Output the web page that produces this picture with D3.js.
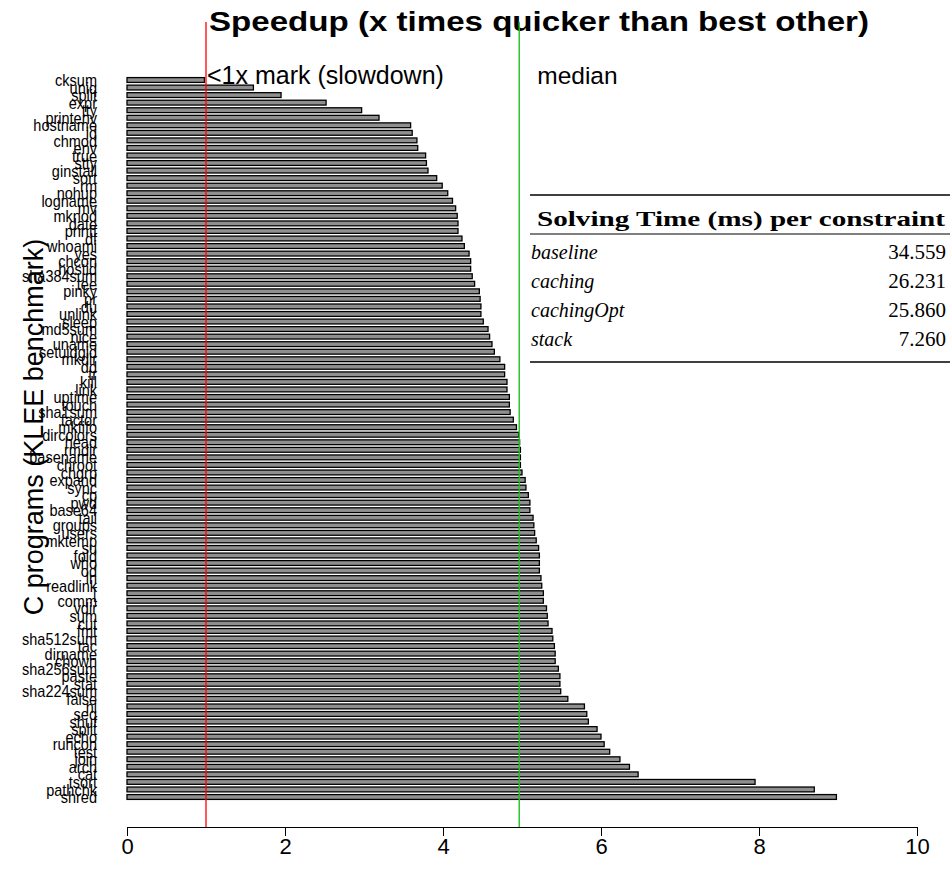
<!DOCTYPE html>
<html><head><meta charset="utf-8">
<script src="https://cdn.jsdelivr.net/npm/d3@7"></script>
<style>body{margin:0;background:#fff}svg{display:block}</style>
</head><body>
<script>
const programs = ["cksum","uniq","split","expr","tty","printenv","hostname","id","chmod","env","true","stty","ginstall","sort","rm","nohup","logname","mv","mknod","date","printf","df","whoami","yes","chcon","hostid","sha384sum","tee","pinky","pr","du","unlink","sleep","md5sum","nice","uname","setuidgid","mkdir","dd","tr","kill","link","uptime","touch","sha1sum","factor","mkfifo","dircolors","head","rmdir","basename","chroot","chgrp","expand","sync","cp","pwd","base64","tail","groups","users","mktemp","su","fold","who","od","ln","readlink","[","comm","vdir","sum","cut","fmt","sha512sum","tac","dirname","chown","sha256sum","paste","stat","sha224sum","false","nl","seq","shuf","split ","echo","runcon","test","join","arch","cat","tsort","pathchk","shred"];
const speedups = [0.98,1.60,1.95,2.52,2.97,3.19,3.59,3.61,3.67,3.68,3.78,3.79,3.81,3.92,3.99,4.06,4.12,4.16,4.18,4.19,4.19,4.24,4.27,4.33,4.35,4.35,4.37,4.40,4.46,4.47,4.48,4.48,4.51,4.57,4.59,4.62,4.65,4.72,4.78,4.78,4.81,4.81,4.84,4.84,4.85,4.89,4.93,4.96,4.97,4.98,4.98,4.98,5.00,5.04,5.05,5.08,5.10,5.10,5.14,5.15,5.16,5.18,5.21,5.22,5.22,5.22,5.24,5.25,5.27,5.27,5.31,5.32,5.33,5.38,5.39,5.41,5.42,5.42,5.46,5.48,5.48,5.49,5.58,5.79,5.82,5.84,5.95,6.00,6.04,6.11,6.24,6.36,6.47,7.95,8.70,8.98];
const xTicks = [0,2,4,6,8,10];
const solvers = ["baseline","caching","cachingOpt","stack"];
const solveTimes = ["34.559","26.231","25.860","7.260"];

const W = 950, H = 888;
const svg = d3.select("body").append("svg").attr("width", W).attr("height", H);
const sans = "'Liberation Sans', Arial, Helvetica, sans-serif";
const serif = "'Liberation Serif', 'Times New Roman', serif";

const x = d3.scaleLinear().domain([0, 10]).range([127, 917]);
const y = d3.scaleBand().domain(programs).range([76.23, 800.77]).paddingInner(0.36).paddingOuter(0.18);

// title
svg.append("text").attr("x", 539).attr("y", 31).attr("text-anchor", "middle")
  .attr("font-family", sans).attr("font-weight", "bold").attr("font-size", 28)
  .attr("textLength", 660).attr("lengthAdjust", "spacingAndGlyphs")
  .text("Speedup (x times quicker than best other)");

// y title
svg.append("text").attr("transform", "translate(43,427) rotate(-90)").attr("text-anchor", "middle")
  .attr("font-family", sans).attr("font-size", 27)
  .text("C programs (KLEE benchmark)");

// bars
svg.append("g").selectAll("rect").data(programs).join("rect")
  .attr("x", x(0)).attr("y", d => y(d))
  .attr("width", (d, i) => x(speedups[i]) - x(0)).attr("height", y.bandwidth())
  .attr("fill", "#8f8f8f").attr("stroke", "#000").attr("stroke-width", 1.3);

// bar labels (taller glyphs, natural width of 14.5px text)
const labels = svg.append("g").selectAll("text").data(programs).join("text")
  .attr("x", 97).attr("y", d => y(d) + y.bandwidth() / 2).attr("dy", "0.36em")
  .attr("text-anchor", "end").attr("font-family", sans).attr("font-size", 14.5).attr("fill", "#000")
  .text(d => d.trim());
labels.each(function() {
  const w = this.getComputedTextLength();
  d3.select(this).attr("font-size", 17).attr("textLength", w).attr("lengthAdjust", "spacingAndGlyphs");
});

// reference lines
const med = d3.median(speedups);
svg.append("line").attr("x1", x(1)).attr("x2", x(1)).attr("y1", 22).attr("y2", 828)
  .attr("stroke", "#ff0000").attr("stroke-width", 1.3);
svg.append("line").attr("x1", x(med)).attr("x2", x(med)).attr("y1", 22).attr("y2", 828)
  .attr("stroke", "#1fc21f").attr("stroke-width", 1.4);
svg.append("text").attr("x", x(1) + 1).attr("y", 84).attr("font-family", sans).attr("font-size", 25)
  .text("<1x mark (slowdown)");
svg.append("text").attr("x", x(med) + 18).attr("y", 84).attr("font-family", sans).attr("font-size", 24.5)
  .text("median");

// x axis
const xAxis = d3.axisBottom(x).tickValues(xTicks).tickSize(9).tickSizeOuter(0).tickFormat(d3.format("d"));
const gx = svg.append("g").attr("transform", "translate(0,827)").call(xAxis);
gx.select(".domain").attr("stroke", "#000");
gx.selectAll(".tick line").attr("stroke", "#000");
gx.selectAll(".tick text").attr("font-family", sans).attr("font-size", 22).attr("fill", "#000").attr("y", 11);

// table
const tx0 = 530, tx1 = 950;
svg.append("line").attr("x1", tx0).attr("x2", tx1).attr("y1", 195).attr("y2", 195).attr("stroke", "#000").attr("stroke-width", 1.6);
svg.append("line").attr("x1", tx0).attr("x2", tx1).attr("y1", 234).attr("y2", 234).attr("stroke", "#000").attr("stroke-width", 1);
svg.append("line").attr("x1", tx0).attr("x2", tx1).attr("y1", 362).attr("y2", 362).attr("stroke", "#000").attr("stroke-width", 1.6);
svg.append("text").attr("x", 537).attr("y", 226).attr("font-family", serif).attr("font-weight", "bold")
  .attr("font-size", 20).attr("textLength", 408).attr("lengthAdjust", "spacingAndGlyphs")
  .text("Solving Time (ms) per constraint");
const rowY = d3.scalePoint().domain(solvers).range([259, 346]);
svg.append("g").selectAll("text").data(solvers).join("text")
  .attr("x", 531).attr("y", d => rowY(d)).attr("font-family", serif).attr("font-style", "italic")
  .attr("font-size", 20).text(d => d);
svg.append("g").selectAll("text").data(solvers).join("text")
  .attr("x", 946).attr("y", d => rowY(d)).attr("text-anchor", "end").attr("font-family", serif)
  .attr("font-size", 21).text((d, i) => solveTimes[i]);
</script>
</body></html>
